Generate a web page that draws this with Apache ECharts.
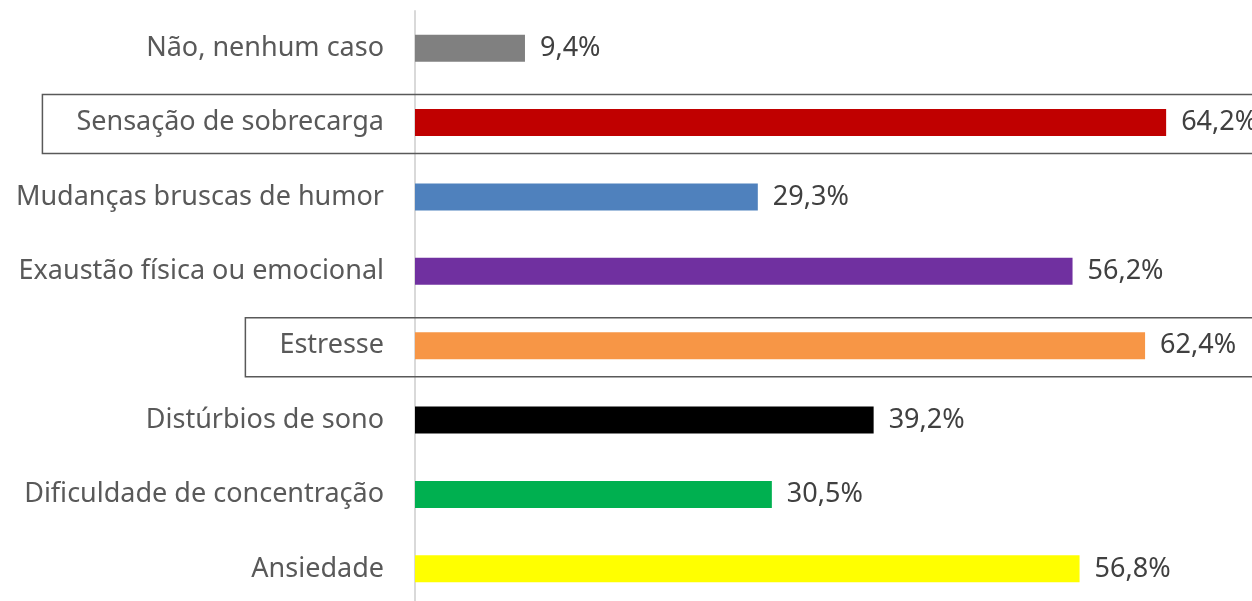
<!DOCTYPE html>
<html>
<head>
<meta charset="utf-8">
<script src="https://cdn.jsdelivr.net/npm/echarts@6/dist/echarts.min.js"></script>
<style>
  html, body { margin: 0; padding: 0; background: #fff; }
  #main { width: 1252px; height: 601px; }
</style>
</head>
<body>
<div id="main"></div>
<script>
// categories from bottom to top (echarts category axis goes upward)
var categories = ['Ansiedade', 'Dificuldade de concentração', 'Distúrbios de sono', 'Estresse',
  'Exaustão física ou emocional', 'Mudanças bruscas de humor', 'Sensação de sobrecarga', 'Não, nenhum caso']
var values = [56.8, 30.5, 39.2, 62.4, 56.2, 29.3, 64.2, 9.4]
var barColors = ['#FFFF00', '#00B050', '#000000', '#F79646', '#7030A0', '#4F81BD', '#C00000', '#808080']
// categories that get a box drawn round them
var boxed = ['Sensação de sobrecarga', 'Estresse']

var fontFamily = '"Noto Sans", "Open Sans", sans-serif'
var labelSize = 27

var chart = echarts.init(document.getElementById('main'), null, { renderer: 'canvas' })

var option = {
  animation: false,
  grid: { left: 415, top: 11, width: 819, height: 595, containLabel: false, outerBoundsMode: 'none' },
  xAxis: {
    type: 'value',
    min: 0,
    max: 70,
    show: false
  },
  yAxis: {
    type: 'category',
    data: categories,
    axisLine: { show: true, lineStyle: { color: '#D9D9D9', width: 2 } },
    axisTick: { show: false },
    axisLabel: {
      margin: 31,
      color: '#595959',
      fontSize: labelSize,
      fontFamily: fontFamily
    }
  },
  series: [{
    type: 'bar',
    data: values.map(function (v, i) {
      return { value: v, itemStyle: { color: barColors[i] } }
    }),
    barWidth: 27,
    label: {
      show: true,
      position: 'right',
      distance: 15,
      color: '#404040',
      fontSize: labelSize,
      fontFamily: fontFamily,
      formatter: function (p) {
        return p.value.toFixed(1).replace('.', ',') + '%'
      }
    }
  }]
}

chart.setOption(option)

// boxes round the highlighted rows, sized from the label text
var ctx = document.createElement('canvas').getContext('2d')
ctx.font = labelSize + 'px ' + fontFamily
var labelRight = 415 - 31
var rects = boxed.map(function (name) {
  var cy = chart.convertToPixel({ yAxisIndex: 0 }, name)
  var w = ctx.measureText(name).width
  var x0 = labelRight - w - 34
  return {
    type: 'rect',
    z: 10,
    shape: { x: x0, y: cy - 28, width: 1300 - x0, height: 59 },
    style: { fill: null, stroke: '#595959', lineWidth: 1.5 }
  }
})
chart.setOption({ graphic: rects })
</script>
</body>
</html>
